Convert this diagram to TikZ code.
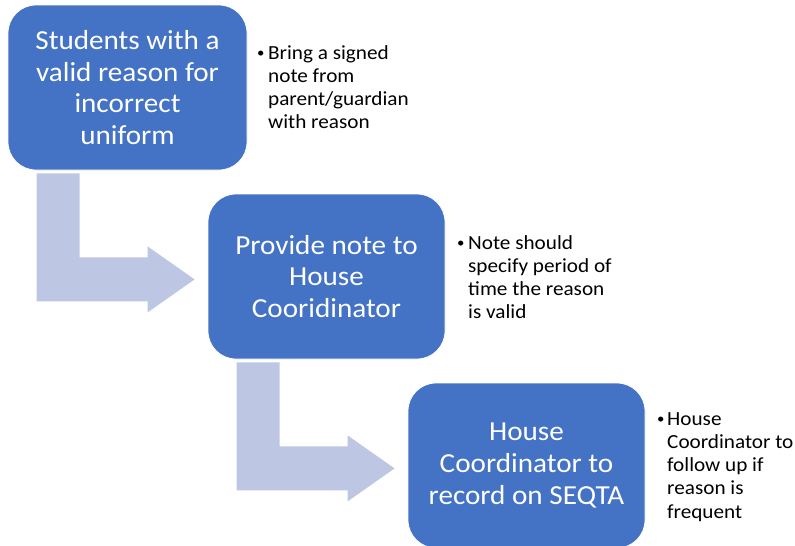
\documentclass[tikz,border=0pt]{standalone}
\usepackage{fontspec}
\setmainfont{Carlito}[FakeStretch=1.06]
\usetikzlibrary{calc}
\definecolor{boxblue}{RGB}{68,114,196}
\definecolor{arrowblue}{RGB}{189,199,227}
\newcommand{\smbul}{\raisebox{1.5pt}{\fontsize{14}{14}\selectfont•}}
\begin{document}
\begin{tikzpicture}[x=1pt,y=-1pt,
 stepbox/.style={rectangle, rounded corners=28pt, fill=boxblue, draw=white, line width=0.8pt, minimum width=239pt, minimum height=165pt, align=center, text=white, font=\fontsize{27.5}{31.7}\selectfont, inner sep=0pt},
 bultext/.style={anchor=base west, inner sep=0pt, font=\fontsize{20}{23.3}\selectfont, text=black},
 bent/.style={fill=arrowblue}]
\useasboundingbox (0,0) rectangle (795,546);
\node[stepbox] (b1) at (127.5,87.5) {Students with a\\valid reason for\\incorrect\\uniform};
\node[stepbox, minimum width=237pt] (b2) at (326.5,276.5) {Provide note to\\House\\Cooridinator};
\node[stepbox, minimum width=237pt] (b3) at (526.5,465.5) {House\\Coordinator to\\record on SEQTA};
\fill[bent] ($(b1.south west)+(29,3)$) -- ++(43,0) -- ++(0,84) -- ++(68,0) -- ++(0,-11) -- ++(47,33) -- ++(-47,33) -- ++(0,-11) -- ++(-111,0) -- cycle;
\fill[bent] ($(b2.south west)+(29,3)$) -- ++(43,0) -- ++(0,84) -- ++(68,0) -- ++(0,-11) -- ++(47,33) -- ++(-47,33) -- ++(0,-11) -- ++(-111,0) -- cycle;
\node[bultext] (n1) at (257,59) {\begin{tabular}[t]{@{}p{11pt}@{}l@{}}\smbul&Bring a signed\\&note from\\&parent/guardian\\&with reason\end{tabular}};
\node[bultext] (n2) at (457,249) {\begin{tabular}[t]{@{}p{11pt}@{}l@{}}\smbul&Note should\\&specify period of\\&time the reason\\&is valid\end{tabular}};
\node[bultext] (n3) at (657,425) {\begin{tabular}[t]{@{}p{10pt}@{}l@{}}\smbul&House\\&Coordinator to\\&follow up if\\&reason is\\&frequent\end{tabular}};
\end{tikzpicture}
\end{document}
